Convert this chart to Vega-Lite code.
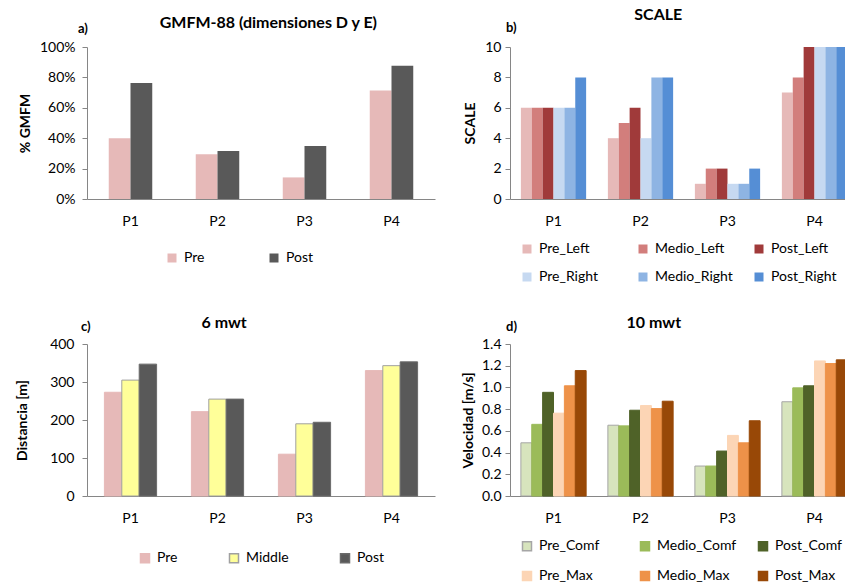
{
  "$schema": "https://vega.github.io/schema/vega-lite/v6.json",
  "padding": {"left": 15, "top": 7, "right": 0, "bottom": 0},
  "bounds": "flush",
  "columns": 2,
  "spacing": {"column": 75, "row": 145},
  "config": {
    "font": "Lato",
    "view": {"stroke": null},
    "axis": {"labelColor": "#000", "titleColor": "#000", "domainColor": "#868686", "tickColor": "#868686", "labelFontSize": 14, "titleFontSize": 14, "titleFontWeight": "bold", "grid": false},
    "axisX": {"labelAngle": 0, "ticks": false, "labelPadding": 15, "title": null},
    "axisY": {"tickSize": 5, "titleAngle": -90, "titleAlign": "center", "titleBaseline": "middle", "titleY": 76},
    "legend": {"orient": "none", "direction": "horizontal", "title": null, "symbolType": "square", "symbolSize": 81, "labelFontSize": 14, "labelColor": "#000", "labelOffset": 5, "padding": 0},
    "title": {"anchor": "start", "frame": "group", "fontSize": 16, "fontWeight": "bold", "color": "#000", "subtitleFontSize": 13, "subtitleFontWeight": "bold", "subtitleColor": "#000"}
  },
  "resolve": {"scale": {"x": "independent", "y": "independent", "xOffset": "independent", "color": "independent", "stroke": "independent"}, "legend": {"color": "independent", "stroke": "independent"}},
  "datasets": {
    "ga": [
      {"p": "P1", "s": "Pre", "v": 0.40}, {"p": "P1", "s": "Post", "v": 0.763},
      {"p": "P2", "s": "Pre", "v": 0.295}, {"p": "P2", "s": "Post", "v": 0.315},
      {"p": "P3", "s": "Pre", "v": 0.142}, {"p": "P3", "s": "Post", "v": 0.348},
      {"p": "P4", "s": "Pre", "v": 0.714}, {"p": "P4", "s": "Post", "v": 0.876}
    ],
    "gb": [
      {"p": "P1", "s": "Pre_Left", "v": 6}, {"p": "P1", "s": "Medio_Left", "v": 6}, {"p": "P1", "s": "Post_Left", "v": 6},
      {"p": "P1", "s": "Pre_Right", "v": 6}, {"p": "P1", "s": "Medio_Right", "v": 6}, {"p": "P1", "s": "Post_Right", "v": 8},
      {"p": "P2", "s": "Pre_Left", "v": 4}, {"p": "P2", "s": "Medio_Left", "v": 5}, {"p": "P2", "s": "Post_Left", "v": 6},
      {"p": "P2", "s": "Pre_Right", "v": 4}, {"p": "P2", "s": "Medio_Right", "v": 8}, {"p": "P2", "s": "Post_Right", "v": 8},
      {"p": "P3", "s": "Pre_Left", "v": 1}, {"p": "P3", "s": "Medio_Left", "v": 2}, {"p": "P3", "s": "Post_Left", "v": 2},
      {"p": "P3", "s": "Pre_Right", "v": 1}, {"p": "P3", "s": "Medio_Right", "v": 1}, {"p": "P3", "s": "Post_Right", "v": 2},
      {"p": "P4", "s": "Pre_Left", "v": 7}, {"p": "P4", "s": "Medio_Left", "v": 8}, {"p": "P4", "s": "Post_Left", "v": 10},
      {"p": "P4", "s": "Pre_Right", "v": 10}, {"p": "P4", "s": "Medio_Right", "v": 10}, {"p": "P4", "s": "Post_Right", "v": 10}
    ],
    "gc": [
      {"p": "P1", "s": "Pre", "v": 273}, {"p": "P1", "s": "Middle", "v": 305}, {"p": "P1", "s": "Post", "v": 347},
      {"p": "P2", "s": "Pre", "v": 222}, {"p": "P2", "s": "Middle", "v": 255}, {"p": "P2", "s": "Post", "v": 255},
      {"p": "P3", "s": "Pre", "v": 110}, {"p": "P3", "s": "Middle", "v": 190}, {"p": "P3", "s": "Post", "v": 194},
      {"p": "P4", "s": "Pre", "v": 330}, {"p": "P4", "s": "Middle", "v": 343}, {"p": "P4", "s": "Post", "v": 353}
    ],
    "gd": [
      {"p": "P1", "s": "Pre_Comf", "v": 0.49}, {"p": "P1", "s": "Medio_Comf", "v": 0.66}, {"p": "P1", "s": "Post_Comf", "v": 0.955},
      {"p": "P1", "s": "Pre_Max", "v": 0.763}, {"p": "P1", "s": "Medio_Max", "v": 1.015}, {"p": "P1", "s": "Post_Max", "v": 1.155},
      {"p": "P2", "s": "Pre_Comf", "v": 0.652}, {"p": "P2", "s": "Medio_Comf", "v": 0.646}, {"p": "P2", "s": "Post_Comf", "v": 0.79},
      {"p": "P2", "s": "Pre_Max", "v": 0.833}, {"p": "P2", "s": "Medio_Max", "v": 0.805}, {"p": "P2", "s": "Post_Max", "v": 0.873},
      {"p": "P3", "s": "Pre_Comf", "v": 0.276}, {"p": "P3", "s": "Medio_Comf", "v": 0.276}, {"p": "P3", "s": "Post_Comf", "v": 0.414},
      {"p": "P3", "s": "Pre_Max", "v": 0.558}, {"p": "P3", "s": "Medio_Max", "v": 0.49}, {"p": "P3", "s": "Post_Max", "v": 0.693},
      {"p": "P4", "s": "Pre_Comf", "v": 0.868}, {"p": "P4", "s": "Medio_Comf", "v": 0.996}, {"p": "P4", "s": "Post_Comf", "v": 1.015},
      {"p": "P4", "s": "Pre_Max", "v": 1.244}, {"p": "P4", "s": "Medio_Max", "v": 1.22}, {"p": "P4", "s": "Post_Max", "v": 1.254}
    ]
  },
  "concat": [
    {
      "width": 348, "height": 152,
      "data": {"name": "ga"},
      "title": {"text": "\u200b\u00a0\u00a0\u00a0\u00a0\u00a0\u00a0\u00a0\u00a0\u00a0\u00a0\u00a0\u00a0\u00a0\u00a0\u00a0\u00a0\u00a0\u00a0\u00a0\u00a0\u00a0GMFM-88 (dimensiones D y E)", "subtitle": "a)", "dx": -9, "subtitlePadding": -8, "offset": 4},
      "mark": {"type": "bar"},
      "encoding": {
        "x": {"field": "p", "type": "nominal", "scale": {"paddingInner": 0, "paddingOuter": 0}},
        "xOffset": {"field": "s", "type": "nominal", "sort": ["Pre", "Post"], "scale": {"paddingInner": 0, "paddingOuter": 1.56}},
        "y": {"field": "v", "type": "quantitative", "scale": {"domain": [0, 1], "nice": false},
              "axis": {"values": [0, 0.2, 0.4, 0.6, 0.8, 1], "format": ".0%", "title": "% GMFM", "labelPadding": 7, "titleX": -62}},
        "color": {"field": "s", "type": "nominal", "sort": ["Pre", "Post"],
                  "scale": {"domain": ["Pre", "Post"], "range": ["#E6B9B8", "#595959"]},
                  "legend": {"legendX": 78, "legendY": 204, "columnPadding": 62, "gridAlign": "each"}}
      }
    },
    {
      "width": 348, "height": 152,
      "data": {"name": "gb"},
      "title": {"text": "\u200b\u00a0\u00a0\u00a0\u00a0\u00a0\u00a0\u00a0\u00a0\u00a0\u00a0\u00a0\u00a0\u00a0\u00a0\u00a0\u00a0\u00a0\u00a0\u00a0\u00a0\u00a0\u00a0\u00a0\u00a0\u00a0\u00a0\u00a0\u00a0\u00a0\u00a0\u00a0\u00a0\u00a0SCALE", "subtitle": "b)", "dx": -4, "subtitlePadding": -1, "offset": 5},
      "mark": {"type": "bar"},
      "encoding": {
        "x": {"field": "p", "type": "nominal", "scale": {"paddingInner": 0, "paddingOuter": 0}},
        "xOffset": {"field": "s", "type": "nominal", "sort": ["Pre_Left", "Medio_Left", "Post_Left", "Pre_Right", "Medio_Right", "Post_Right"], "scale": {"paddingInner": 0, "paddingOuter": 1.5}},
        "y": {"field": "v", "type": "quantitative", "scale": {"domain": [0, 10], "nice": false},
              "axis": {"values": [0, 2, 4, 6, 8, 10], "title": "SCALE", "labelPadding": 4, "titleX": -40}},
        "color": {"field": "s", "type": "nominal", "sort": ["Pre_Left", "Medio_Left", "Post_Left", "Pre_Right", "Medio_Right", "Post_Right"],
                  "scale": {"domain": ["Pre_Left", "Medio_Left", "Post_Left", "Pre_Right", "Medio_Right", "Post_Right"], "range": ["#E6B9B8", "#D27E7C", "#A03A3A", "#C6D9F1", "#8EB4E3", "#558ED5"]},
                  "legend": {"legendX": 10, "legendY": 195, "columns": 3, "columnPadding": 19, "rowPadding": 14, "gridAlign": "all"}}
      }
    },
    {
      "width": 348, "height": 152,
      "data": {"name": "gc"},
      "title": {"text": "\u200b\u00a0\u00a0\u00a0\u00a0\u00a0\u00a0\u00a0\u00a0\u00a0\u00a0\u00a0\u00a0\u00a0\u00a0\u00a0\u00a0\u00a0\u00a0\u00a0\u00a0\u00a0\u00a0\u00a0\u00a0\u00a0\u00a0\u00a0\u00a0\u00a0\u00a0\u00a06 mwt", "subtitle": "c)", "dx": -6, "subtitlePadding": -10, "offset": 3},
      "mark": {"type": "bar", "strokeWidth": 1},
      "encoding": {
        "x": {"field": "p", "type": "nominal", "scale": {"paddingInner": 0, "paddingOuter": 0}},
        "xOffset": {"field": "s", "type": "nominal", "sort": ["Pre", "Middle", "Post"], "scale": {"paddingInner": 0, "paddingOuter": 1.6}},
        "y": {"field": "v", "type": "quantitative", "scale": {"domain": [0, 400], "nice": false},
              "axis": {"values": [0, 100, 200, 300, 400], "title": "Distancia [m]", "labelPadding": 8, "titleX": -65}},
        "color": {"field": "s", "type": "nominal", "sort": ["Pre", "Middle", "Post"],
                  "scale": {"domain": ["Pre", "Middle", "Post"], "range": ["#E6B9B8", "#FFFF99", "#595959"]},
                  "legend": {"legendX": 51, "legendY": 207, "columnPadding": 48, "gridAlign": "each"}},
        "stroke": {"field": "s", "type": "nominal", "sort": ["Pre", "Middle", "Post"],
                   "scale": {"domain": ["Pre", "Middle", "Post"], "range": ["#E6B9B8", "#A0A0A0", "#6A6A6A"]},
                   "legend": {"legendX": 51, "legendY": 207, "columnPadding": 48, "gridAlign": "each"}}
      }
    },
    {
      "width": 348, "height": 152,
      "data": {"name": "gd"},
      "title": {"text": "\u200b\u00a0\u00a0\u00a0\u00a0\u00a0\u00a0\u00a0\u00a0\u00a0\u00a0\u00a0\u00a0\u00a0\u00a0\u00a0\u00a0\u00a0\u00a0\u00a0\u00a0\u00a0\u00a0\u00a0\u00a0\u00a0\u00a0\u00a0\u00a0\u00a0\u00a0\u00a010 mwt", "subtitle": "d)", "dx": -4, "subtitlePadding": -10, "offset": 3},
      "mark": {"type": "bar", "strokeWidth": 1},
      "encoding": {
        "x": {"field": "p", "type": "nominal", "scale": {"paddingInner": 0, "paddingOuter": 0}},
        "xOffset": {"field": "s", "type": "nominal", "sort": ["Pre_Comf", "Medio_Comf", "Post_Comf", "Pre_Max", "Medio_Max", "Post_Max"], "scale": {"paddingInner": 0, "paddingOuter": 1.5}},
        "y": {"field": "v", "type": "quantitative", "scale": {"domain": [0, 1.4], "nice": false},
              "axis": {"values": [0, 0.2, 0.4, 0.6, 0.8, 1, 1.2, 1.4], "format": ".1f", "title": "Velocidad [m/s]", "labelPadding": 4, "titleX": -42}},
        "color": {"field": "s", "type": "nominal", "sort": ["Pre_Comf", "Medio_Comf", "Post_Comf", "Pre_Max", "Medio_Max", "Post_Max"],
                  "scale": {"domain": ["Pre_Comf", "Medio_Comf", "Post_Comf", "Pre_Max", "Medio_Max", "Post_Max"], "range": ["#D7E4BD", "#9BBB59", "#4F6228", "#FCD5B5", "#EE9249", "#984807"]},
                  "legend": {"legendX": 10, "legendY": 195, "columns": 3, "columnPadding": 18, "rowPadding": 14, "gridAlign": "all"}},
        "stroke": {"field": "s", "type": "nominal", "sort": ["Pre_Comf", "Medio_Comf", "Post_Comf", "Pre_Max", "Medio_Max", "Post_Max"],
                   "scale": {"domain": ["Pre_Comf", "Medio_Comf", "Post_Comf", "Pre_Max", "Medio_Max", "Post_Max"], "range": ["#A6A6A6", "#9BBB59", "#4F6228", "#FCD5B5", "#EE9249", "#984807"]},
                   "legend": {"legendX": 10, "legendY": 195, "columns": 3, "columnPadding": 18, "rowPadding": 14, "gridAlign": "all"}}
      }
    }
  ]
}
